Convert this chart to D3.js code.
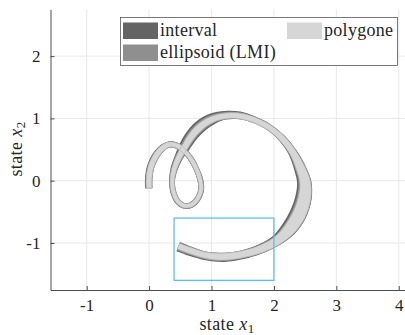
<!DOCTYPE html>
<html>
<head>
<meta charset="utf-8">
<script src="https://cdn.jsdelivr.net/npm/d3@7"></script>
<style>
  body { margin: 0; background: #fff; }
  svg { display: block; }
  svg text { font-family: 'Liberation Serif', 'Times New Roman', 'DejaVu Serif', serif !important; }
</style>
</head>
<body>
<svg id="chart" width="405" height="335"></svg>
<script>
'use strict';

const FONT = "'Liberation Serif', 'Times New Roman', 'DejaVu Serif', serif";

// Tick values of both axes
const xTicks = [-1, 0, 1, 2, 3, 4];
const yTicks = [-1, 0, 1, 2];

// Centre line of the reachable set
const pathX = [0.00, 0.00, 0.03, 0.10, 0.20, 0.32, 0.45, 0.56, 0.67, 0.76, 0.82, 0.83, 0.77, 0.67,
               0.56, 0.46, 0.39, 0.37, 0.40, 0.47, 0.57, 0.70, 0.85, 1.02, 1.22, 1.45, 1.70, 1.93,
               2.13, 2.30, 2.42, 2.50, 2.49, 2.40, 2.25, 2.04, 1.78, 1.50, 1.20, 0.92, 0.68, 0.47];
const pathY = [-0.12, 0.05, 0.22, 0.38, 0.51, 0.58, 0.56, 0.48, 0.35, 0.18, 0.00, -0.15, -0.30, -0.39,
               -0.40, -0.33, -0.18, 0.00, 0.18, 0.36, 0.54, 0.74, 0.89, 0.99, 1.04, 1.04, 0.97, 0.85,
               0.68, 0.46, 0.22, -0.02, -0.28, -0.55, -0.78, -0.97, -1.10, -1.18, -1.22, -1.20, -1.13, -1.05];

// Width of the polygone set along the centre line
const polyWidth = [0.09, 0.09, 0.09, 0.09, 0.09, 0.08, 0.08, 0.07, 0.07, 0.07, 0.07, 0.07, 0.07, 0.07,
                   0.07, 0.07, 0.07, 0.07, 0.08, 0.09, 0.10, 0.11, 0.11, 0.10, 0.09, 0.09, 0.09, 0.09,
                   0.10, 0.11, 0.14, 0.17, 0.20, 0.21, 0.19, 0.14, 0.12, 0.11, 0.11, 0.10, 0.10, 0.10];

// Extra extent of the interval set on the outer / inner side
const intervalOuter = [0.02, 0.02, 0.02, 0.02, 0.015, 0.01, 0.01, 0.01, 0.01, 0.01, 0.015, 0.015, 0.015, 0.015,
                       0.015, 0.015, 0.015, 0.015, 0.02, 0.025, 0.045, 0.05, 0.05, 0.045, 0.035, 0.025, 0.01, 0.01,
                       0.01, 0.012, 0.015, 0.015, 0.015, 0.015, 0.015, 0.01, 0.015, 0.025, 0.03, 0.03, 0.035, 0.04];
const intervalInner = [0.01, 0.01, 0.01, 0.01, 0.01, 0.01, 0.01, 0.01, 0.01, 0.01, 0.01, 0.01, 0.01, 0.01,
                       0.01, 0.01, 0.01, 0.01, 0.015, 0.02, 0.035, 0.04, 0.04, 0.035, 0.015, 0.01, 0.008, 0.008,
                       0.01, 0.02, 0.035, 0.045, 0.05, 0.05, 0.045, 0.03, 0.02, 0.01, 0.01, 0.01, 0.015, 0.02];

// Extra extent of the ellipsoid set on the outer / inner side
const ellipsoidOuter = [0.01, 0.01, 0.01, 0.01, 0.008, 0.005, 0.005, 0.005, 0.005, 0.005, 0.008, 0.008, 0.008, 0.008,
                        0.008, 0.008, 0.008, 0.008, 0.01, 0.012, 0.022, 0.025, 0.025, 0.022, 0.017, 0.012, 0.005, 0.005,
                        0.005, 0.006, 0.008, 0.008, 0.008, 0.008, 0.008, 0.005, 0.008, 0.012, 0.015, 0.015, 0.018, 0.02];
const ellipsoidInner = [0.005, 0.005, 0.005, 0.005, 0.005, 0.005, 0.005, 0.005, 0.005, 0.005, 0.005, 0.005, 0.005, 0.005,
                        0.005, 0.005, 0.005, 0.005, 0.008, 0.01, 0.017, 0.02, 0.02, 0.017, 0.008, 0.005, 0.004, 0.004,
                        0.005, 0.01, 0.018, 0.022, 0.025, 0.025, 0.022, 0.015, 0.01, 0.005, 0.005, 0.005, 0.008, 0.01];

// Zoom rectangle [x1, x2] x [y1, y2]
const boxX = [0.4, 2.0];
const boxY = [-1.6, -0.6];

const legendNames = ['interval', 'ellipsoid (LMI)', 'polygone'];
const legendColors = ['#646464', '#8f8f8f', '#d6d6d6'];

// -----------------------------------------------------
// Setup

const svg = d3.select('#chart');

const x = d3.scaleLinear().domain([-1.58, 4.1]).range([50.5, 405]);
const y = d3.scaleLinear().domain([-1.755, 2.75]).range([290, 9.4]);

// Grid lines
svg.append('g')
   .selectAll('line')
   .data(xTicks)
   .enter()
   .append('line')
     .attr('x1', d => x(d)).attr('x2', d => x(d))
     .attr('y1', y.range()[0]).attr('y2', y.range()[1])
     .attr('stroke', '#e8e8e8');
svg.append('g')
   .selectAll('line')
   .data(yTicks)
   .enter()
   .append('line')
     .attr('x1', x.range()[0]).attr('x2', x.range()[1])
     .attr('y1', d => y(d)).attr('y2', d => y(d))
     .attr('stroke', '#e8e8e8');

// -----------------------------------------------------
// Bands

function bandPath(outer, inner) {
    const n = pathX.length;
    const left = [];
    const right = [];
    for (let i = 0; i < n; i++) {
        const a = Math.max(0, i - 1);
        const b = Math.min(n - 1, i + 1);
        let dx = pathX[b] - pathX[a];
        let dy = pathY[b] - pathY[a];
        const len = Math.hypot(dx, dy);
        dx /= len; dy /= len;
        // Left normal points to the outside of the clockwise spiral
        const nx = -dy, ny = dx;
        const wo = polyWidth[i] / 2 + (outer ? outer[i] : 0);
        const wi = polyWidth[i] / 2 + (inner ? inner[i] : 0);
        left.push([x(pathX[i] + nx * wo), y(pathY[i] + ny * wo)]);
        right.push([x(pathX[i] - nx * wi), y(pathY[i] - ny * wi)]);
    }
    const line = d3.line().curve(d3.curveCatmullRom);
    return line(left) + line(right.reverse()).replace(/^M/, 'L') + 'Z';
}

svg.append('path')
   .attr('d', bandPath(intervalOuter, intervalInner))
   .attr('fill', legendColors[0]);

svg.append('path')
   .attr('d', bandPath(ellipsoidOuter, ellipsoidInner))
   .attr('fill', legendColors[1]);

svg.append('path')
   .attr('d', bandPath(null, null))
   .attr('fill', legendColors[2])
   .attr('stroke', '#b4b4b4')
   .attr('stroke-width', 0.6);

// Zoom rectangle
svg.append('rect')
   .attr('x', x(boxX[0]))
   .attr('y', y(boxY[1]))
   .attr('width', x(boxX[1]) - x(boxX[0]))
   .attr('height', y(boxY[0]) - y(boxY[1]))
   .attr('fill', 'none')
   .attr('stroke', '#4dbeee')
   .attr('stroke-width', 1.2);

// -----------------------------------------------------
// Axes

const xAxis = d3.axisBottom(x).tickValues(xTicks).tickSizeInner(-4).tickSizeOuter(0).tickPadding(9);
const yAxis = d3.axisLeft(y).tickValues(yTicks).tickSizeInner(-4).tickSizeOuter(0).tickPadding(10);

function styleAxis(g) {
    g.attr('font-family', FONT).attr('font-size', 17);
    g.select('.domain').attr('stroke', '#4d4d4d');
    g.selectAll('.tick line').attr('stroke', '#4d4d4d');
    g.selectAll('.tick text')
     .attr('fill', '#262626')
     .text(d => d < 0 ? '-' + Math.abs(d) : d);
}

svg.append('g')
   .attr('transform', `translate(0, ${y.range()[0]})`)
   .call(xAxis)
   .call(styleAxis);

svg.append('g')
   .attr('transform', `translate(${x.range()[0]}, 0)`)
   .call(yAxis)
   .call(styleAxis);

// Axis labels
const xLabel = svg.append('text')
   .attr('x', 227).attr('y', 330)
   .attr('text-anchor', 'middle')
   .attr('font-family', FONT)
   .attr('font-size', 18)
   .attr('letter-spacing', 0.4)
   .attr('fill', '#262626');
xLabel.append('tspan').text('state ');
xLabel.append('tspan').attr('font-style', 'italic').text('x');
xLabel.append('tspan').attr('font-size', 13).attr('dy', 3).text('1');

const yLabel = svg.append('text')
   .attr('transform', `translate(22, 149) rotate(-90)`)
   .attr('text-anchor', 'middle')
   .attr('font-family', FONT)
   .attr('font-size', 18)
   .attr('letter-spacing', 0.4)
   .attr('fill', '#262626');
yLabel.append('tspan').text('state ');
yLabel.append('tspan').attr('font-style', 'italic').text('x');
yLabel.append('tspan').attr('font-size', 13).attr('dy', 3).text('2');

// -----------------------------------------------------
// Legend

const legend = svg.append('g');
legend.append('rect')
      .attr('x', 120.5).attr('y', 17.5)
      .attr('width', 277).attr('height', 48)
      .attr('fill', '#fff')
      .attr('stroke', '#595959')
      .attr('stroke-width', 0.8);

const legendPos = [[123, 22.5], [123, 44.5], [287, 22.5]];
legendNames.forEach((name, i) => {
    const [lx, ly] = legendPos[i];
    legend.append('rect')
          .attr('x', lx).attr('y', ly)
          .attr('width', 35).attr('height', 16.5)
          .attr('fill', legendColors[i]);
    legend.append('text')
          .attr('x', lx + 37).attr('y', ly + 13.5)
          .attr('font-family', FONT)
          .attr('font-size', 18)
          .attr('letter-spacing', 0.3)
          .attr('fill', '#262626')
          .text(name);
});
</script>
</body>
</html>
